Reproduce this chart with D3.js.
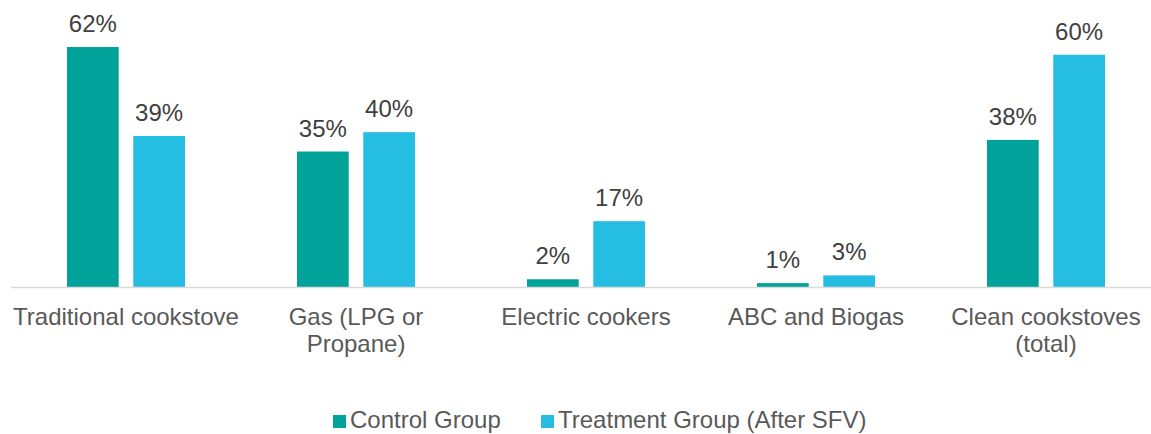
<!DOCTYPE html>
<html lang="en">
<head>
    <meta charset="UTF-8">
    <script src="https://d3js.org/d3.v7.min.js"></script>
    <title>cookstove_chart</title>
    <style>
        body { margin: 0; background: #fff; }
        text { font-family: "Liberation Sans", Arial, sans-serif; }
    </style>
</head>
<body>
<script>
    // data
    var categories = [
        ["Traditional cookstove"],
        ["Gas (LPG or", "Propane)"],
        ["Electric cookers"],
        ["ABC and Biogas"],
        ["Clean cookstoves", "(total)"]
    ];
    var seriesNames = ["Control Group", "Treatment Group (After SFV)"];
    var control = [62, 35, 2, 1, 38];
    var treatment = [39, 40, 17, 3, 60];
    var colors = ["#00A29A", "#26BDE3"];

    var w = 1151, h = 434;
    var base = 287;

    var svg = d3.select("body").append("svg")
        .attr("width", w)
        .attr("height", h);

    var x0 = d3.scaleBand()
        .domain(d3.range(categories.length))
        .range([11, 1161])
        .paddingInner(0)
        .paddingOuter(0);

    var x1 = d3.scaleBand()
        .domain([0, 1])
        .range([56, 174])
        .paddingInner(0.22)
        .paddingOuter(0);

    var y = d3.scaleLinear()
        .domain([0, 62])
        .range([base, 47]);

    var rows = categories.map(function(c, i) {
        return [control[i], treatment[i]];
    });

    var groups = svg.selectAll("g.cat")
        .data(rows)
        .enter().append("g")
        .attr("class", "cat")
        .attr("transform", function(d, i) { return "translate(" + x0(i) + ",0)"; });

    groups.selectAll("rect")
        .data(function(d) { return d; })
        .enter().append("rect")
        .attr("x", function(d, j) { return x1(j); })
        .attr("y", function(d) { return y(d); })
        .attr("width", x1.bandwidth())
        .attr("height", function(d) { return base - y(d); })
        .attr("fill", function(d, j) { return colors[j]; });

    groups.selectAll("text.val")
        .data(function(d) { return d; })
        .enter().append("text")
        .attr("class", "val")
        .attr("x", function(d, j) { return x1(j) + x1.bandwidth() / 2; })
        .attr("y", function(d) { return y(d) - 15; })
        .attr("text-anchor", "middle")
        .attr("font-size", 24)
        .attr("fill", "#404040")
        .text(function(d) { return d + "%"; });

    // axis line
    svg.append("line")
        .attr("x1", 11).attr("x2", w)
        .attr("y1", base + 0.5).attr("y2", base + 0.5)
        .attr("stroke", "#D9D9D9")
        .attr("stroke-width", 1.5);

    // category labels
    var lab = svg.selectAll("text.cat")
        .data(categories)
        .enter().append("text")
        .attr("class", "cat")
        .attr("text-anchor", "middle")
        .attr("font-size", 24)
        .attr("fill", "#595959")
        .attr("transform", function(d, i) {
            return "translate(" + (x0(i) + x0.bandwidth() / 2) + "," + 325 + ")";
        });
    lab.selectAll("tspan")
        .data(function(d) { return d; })
        .enter().append("tspan")
        .attr("x", 0)
        .attr("dy", function(d, k) { return k === 0 ? 0 : 27; })
        .text(function(d) { return d; });

    // legend
    var legendX = [333, 541];
    var leg = svg.selectAll("g.leg")
        .data(seriesNames)
        .enter().append("g")
        .attr("class", "leg")
        .attr("transform", function(d, i) { return "translate(" + legendX[i] + ",415)"; });
    leg.append("rect")
        .attr("width", 13).attr("height", 13)
        .attr("fill", function(d, i) { return colors[i]; });
    leg.append("text")
        .attr("x", 17).attr("y", 13)
        .attr("font-size", 24)
        .attr("fill", "#595959")
        .text(function(d) { return d; });
</script>
</body>
</html>
